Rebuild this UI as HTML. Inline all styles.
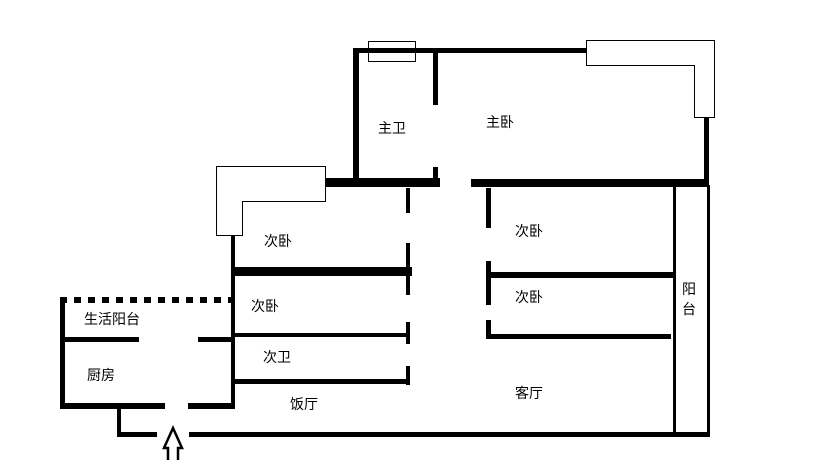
<!DOCTYPE html>
<html><head><meta charset="utf-8"><style>
html,body{margin:0;padding:0;background:#fff;}
svg{display:block;}
text{font-family:"Liberation Sans","Noto Sans CJK SC",sans-serif;font-size:14px;fill:#000;}
</style></head><body>
<svg width="816" height="460" viewBox="0 0 816 460" xmlns="http://www.w3.org/2000/svg">
<g fill="#000">
<rect x="353" y="48" width="233" height="5"/>
<rect x="353" y="48" width="6" height="135"/>
<rect x="433" y="50" width="5" height="55"/>
<rect x="433" y="167" width="5" height="18"/>
<rect x="325" y="178" width="115" height="9"/>
<rect x="471" y="179" width="236" height="8"/>
<rect x="704" y="118" width="5" height="67"/>
<rect x="231" y="235" width="4" height="174"/>
<rect x="406" y="188" width="4" height="25"/>
<rect x="406" y="243" width="4" height="52"/>
<rect x="406" y="322" width="4" height="22"/>
<rect x="406" y="366" width="4" height="19"/>
<rect x="232" y="267" width="180" height="9"/>
<rect x="232" y="333" width="176" height="4"/>
<rect x="232" y="379" width="176" height="5"/>
<rect x="486" y="188" width="5" height="40"/>
<rect x="486" y="261" width="5" height="44"/>
<rect x="486" y="320" width="5" height="19"/>
<rect x="486" y="272" width="187" height="6"/>
<rect x="486" y="334" width="185" height="5"/>
<rect x="673" y="185" width="3" height="248"/>
<rect x="707" y="185" width="3" height="248"/>
<rect x="189" y="432" width="521" height="5"/>
<rect x="117" y="432" width="40" height="5"/>
<rect x="117" y="403" width="4" height="34"/>
<rect x="60" y="297" width="5" height="112"/>
<rect x="60" y="403" width="105" height="6"/>
<rect x="188" y="403" width="47" height="6"/>
<rect x="60" y="337" width="79" height="5"/>
<rect x="198" y="337" width="34" height="5"/>
</g>
<line x1="60" y1="300" x2="234" y2="300" stroke="#000" stroke-width="6" stroke-dasharray="7 7"/>
<g fill="none" stroke="#000" stroke-width="1">
<rect x="368.5" y="41.5" width="47" height="20"/>
<path d="M586.5 40.5 H714.5 V117.5 H694.5 V65.5 H586.5 Z"/>
<path d="M216.5 166.5 H325.5 V201.5 H242.5 V235.5 H216.5 Z"/>
<path d="M168 460 V448 H164 L173 428 L182 448 H178 V460" stroke-width="2.5"/>
</g>
<text x="378" y="133">主卫</text>
<text x="486" y="127">主卧</text>
<text x="264" y="246">次卧</text>
<text x="251" y="311">次卧</text>
<text x="263" y="362">次卫</text>
<text x="290" y="409">饭厅</text>
<text x="515" y="236">次卧</text>
<text x="515" y="302">次卧</text>
<text x="682" y="294">阳</text>
<text x="682" y="314">台</text>
<text x="515" y="398">客厅</text>
<text x="84" y="324">生活阳台</text>
<text x="87" y="380">厨房</text>
</svg>
</body></html>
